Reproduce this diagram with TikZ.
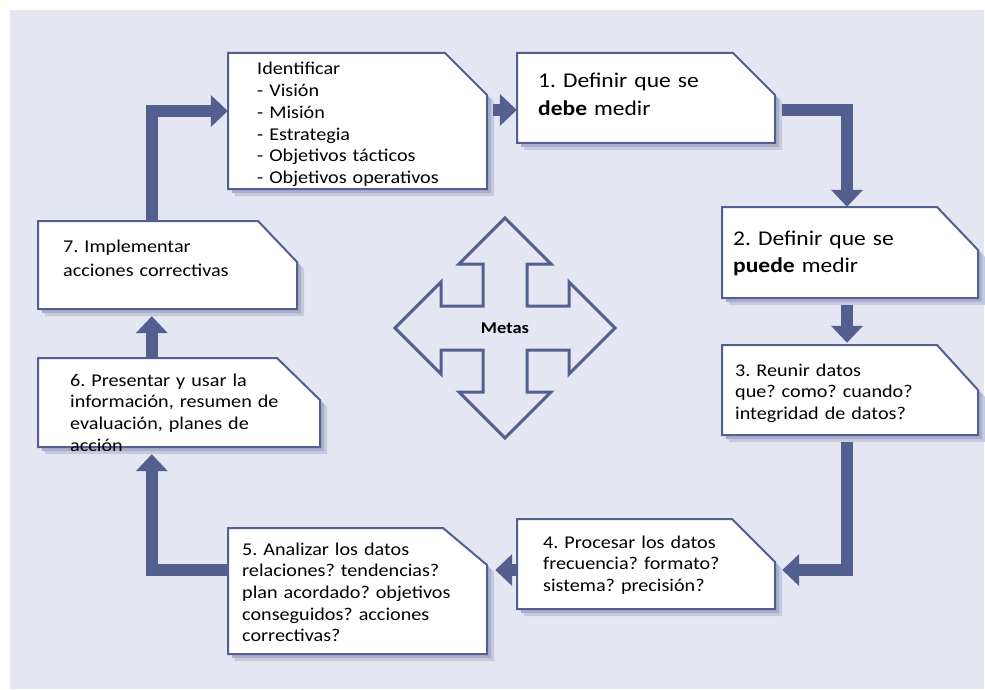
\documentclass[tikz,border=0pt]{standalone}
\usepackage{fontspec}
\setmainfont{Carlito}[FakeStretch=1.12]
\usetikzlibrary{arrows.meta,fit}
\frenchspacing

\definecolor{bgc}{HTML}{E4E7F1}
\definecolor{ink}{HTML}{53608F}
\definecolor{shadowA}{HTML}{C6CADE}
\definecolor{shadowB}{HTML}{AAB0CC}

\tikzset{
  boxline/.style={draw=ink, line width=2pt, fill=white, line join=miter},
  flow/.style={draw=ink, line width=12pt, line join=miter,
    -{Triangle[width=31pt,length=17pt]}},
  txt/.style={inner sep=0pt, anchor=base west, align=left, text width=250pt,
    font=\fontsize{18}{21.7}\selectfont},
  bigtxt/.style={txt, font=\fontsize{21}{27.5}\selectfont},
  quad/.style={draw=ink, line width=3pt, line join=miter}
}

% step box with a cut top-right corner and a soft drop shadow
% #1 name, #2 left, #3 top, #4 right, #5 bottom, #6 cut width, #7 cut height
\newcommand\cutbox[7]{%
  \fill[shadowA] ({#2+7},{#3+7}) -- ({#4-#6+7},{#3+7}) -- ({#4+7},{#3+#7+7})
    -- ({#4+7},{#5+7}) -- ({#2+7},{#5+7}) -- cycle;
  \fill[shadowB] ({#2+4},{#3+4}) -- ({#4-#6+4},{#3+4}) -- ({#4+4},{#3+#7+4})
    -- ({#4+4},{#5+4}) -- ({#2+4},{#5+4}) -- cycle;
  \path[boxline] (#2,#3) -- ({#4-#6},#3) -- (#4,{#3+#7}) -- (#4,#5) -- (#2,#5) -- cycle;
  \node[fit={(#2,#3) (#4,#5)}, inner sep=0pt] (#1) {};
}

\begin{document}
\begin{tikzpicture}[x=1pt,y=-1pt]
  \useasboundingbox (0,0) rectangle (985,690);
  \fill[white] (0,0) rectangle (985,690);
  \fill[bgc] (10,10) rectangle (984,689);

  % boxes
  \cutbox{ident}{228}{53}{487}{189}{42}{42}
  \cutbox{s1}{517}{53}{775}{143}{42}{42}
  \cutbox{s2}{722}{207}{978}{298}{41}{43}
  \cutbox{s3}{722}{345}{978}{435}{41}{45}
  \cutbox{s4}{517}{519}{775}{609}{43}{43}
  \cutbox{s5}{228}{528}{487}{654}{44}{37}
  \cutbox{s6}{38}{358}{320}{447}{43}{42}
  \cutbox{s7}{38}{221}{297}{309}{39}{41}

  % texts
  \node[txt] (tident) at (257,75) {Identificar\\- Visión\\- Misión\\- Estrategia\\- Objetivos tácticos\\- Objetivos operativos};
  \node[bigtxt] (ts1) at (538,88) {1. Definir que se\\\textbf{debe} medir};
  \node[bigtxt] (ts2) at (733,245) {2. Definir que se\\\textbf{puede} medir};
  \node[txt] (ts3) at (735,376) {3. Reunir datos\\que? como? cuando?\\integridad de datos?};
  \node[txt] (ts4) at (543,548) {4. Procesar los datos\\frecuencia? formato?\\sistema? precisión?};
  \node[txt] (ts5) at (242,555) {5. Analizar los datos\\relaciones? tendencias?\\plan acordado? objetivos\\conseguidos? acciones\\correctivas?};
  \node[txt] (ts6) at (70,386) {6. Presentar y usar la\\información, resumen de\\evaluación, planes de\\acción};
  \node[txt, font=\fontsize{18}{24.5}\selectfont] (ts7) at (63,252) {7. Implementar\\acciones correctivas};

  % connectors around the cycle
  \draw[flow] ([xshift=114pt]s7.north west) |- ([yshift=10pt]ident.west);
  \draw[flow] ([xshift=6pt,yshift=11pt]ident.east) -- ([yshift=-12pt]s1.west);
  \draw[flow] ([xshift=7pt,yshift=-12pt]s1.east) -| ([xshift=-3pt]s2.north);
  \draw[flow] ([xshift=-3pt,yshift=-7pt]s2.south) -- ([xshift=-3pt,yshift=2pt]s3.north);
  \draw[flow] ([xshift=-3pt,yshift=-7pt]s3.south) |- ([xshift=7pt,yshift=-6pt]s4.east);
  \draw[flow] ([yshift=-6pt]s4.west) -- ([xshift=8pt,yshift=21pt]s5.east);
  \draw[flow] ([yshift=21pt]s5.west) -| ([xshift=114pt,yshift=-7pt]s6.south west);
  \draw[flow] ([xshift=114pt]s6.north west) -- ([xshift=114pt,yshift=-7pt]s7.south west);

  % four-way arrow in the middle
  \node[font=\fontsize{16.5}{18}\bfseries\selectfont, inner sep=0pt] (metas) at (505,328) {Metas};
  \begin{scope}[shift={(505,328)}]
    \draw[quad] (0,-110) -- (46,-64) -- (22,-64) -- (22,-22) -- (64,-22) -- (64,-46)
      -- (110,0) -- (64,46) -- (64,22) -- (22,22) -- (22,64) -- (46,64)
      -- (0,110) -- (-46,64) -- (-22,64) -- (-22,22) -- (-64,22) -- (-64,46)
      -- (-110,0) -- (-64,-46) -- (-64,-22) -- (-22,-22) -- (-22,-64) -- (-46,-64) -- cycle;
  \end{scope}
\end{tikzpicture}
\end{document}
